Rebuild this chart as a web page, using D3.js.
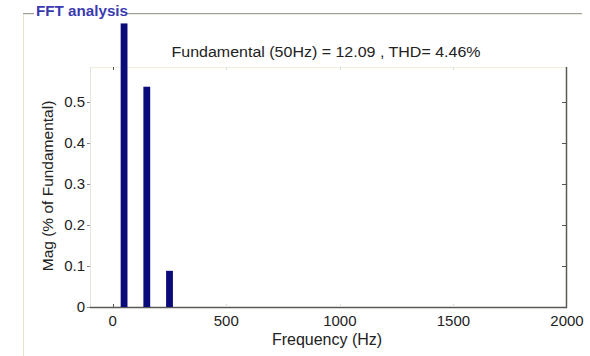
<!DOCTYPE html>
<html>
<head>
<meta charset="utf-8">
<script src="https://cdn.jsdelivr.net/npm/d3@7"></script>
<style>
html,body{margin:0;padding:0;background:#fff;}
svg{display:block;font-family:"Liberation Sans",Arial,sans-serif;}
</style>
</head>
<body>
<svg id="chart" width="590" height="356"></svg>
<script>
// Data
const frequencies = [50, 150, 250];          // Hz
const magnitudes = [0.69, 0.536, 0.088];    // % of fundamental (first bar clipped in view)
const xTicks = [0, 500, 1000, 1500, 2000];
const yTicks = [0, 0.1, 0.2, 0.3, 0.4, 0.5];
const panelTitle = "FFT analysis";
const chartTitle = "Fundamental (50Hz) = 12.09 , THD= 4.46%";
const xLabel = "Frequency (Hz)";
const yLabel = "Mag (% of Fundamental)";

const svg = d3.select("#chart");
const W = 590, H = 356;
const m = {left: 90, right: 567, top: 67, bottom: 307};

const x = d3.scaleLinear().domain([-100, 2000]).range([m.left, m.right]);
const y = d3.scaleLinear().domain([0, 0.584]).range([m.bottom, m.top]);

// group box
const g0 = svg.append("g");
g0.append("line").attr("x1", 23).attr("x2", 34).attr("y1", 13.5).attr("y2", 13.5).attr("stroke", "#a0a0a0");
g0.append("line").attr("x1", 127).attr("x2", 582).attr("y1", 13.5).attr("y2", 13.5).attr("stroke", "#a0a0a0");
g0.append("line").attr("x1", 24).attr("x2", 34).attr("y1", 14.5).attr("y2", 14.5).attr("stroke", "#ece9d8");
g0.append("line").attr("x1", 127).attr("x2", 582).attr("y1", 14.5).attr("y2", 14.5).attr("stroke", "#ece9d8");
g0.append("line").attr("x1", 23.5).attr("x2", 23.5).attr("y1", 14).attr("y2", H).attr("stroke", "#e6e2cc");
g0.append("text").attr("x", 36).attr("y", 16).attr("font-size", 15).attr("fill", "#3a3ab0")
  .attr("font-weight", "bold").attr("textLength", 92).attr("lengthAdjust", "spacingAndGlyphs").text(panelTitle);

// axes box
const ax = svg.append("g");
ax.append("rect").attr("x", m.left).attr("y", m.top).attr("width", m.right - m.left).attr("height", m.bottom - m.top).attr("fill", "#fff");
ax.append("line").attr("x1", m.left).attr("x2", m.right).attr("y1", m.top + 0.5).attr("y2", m.top + 0.5).attr("stroke", "#f3efd8");
ax.append("line").attr("x1", m.left + 0.5).attr("x2", m.left + 0.5).attr("y1", m.top).attr("y2", m.bottom).attr("stroke", "#e4e4dc");
ax.append("line").attr("x1", m.right - 0.5).attr("x2", m.right - 0.5).attr("y1", m.top).attr("y2", m.bottom + 1).attr("stroke", "#5a5a55").attr("stroke-width", 1.5);
ax.append("line").attr("x1", m.left).attr("x2", m.right).attr("y1", m.bottom + 0.5).attr("y2", m.bottom + 0.5).attr("stroke", "#5a5a55").attr("stroke-width", 1.5);

// ticks
yTicks.forEach(t => {
  ax.append("line").attr("x1", m.left - 3).attr("x2", m.left).attr("y1", Math.round(y(t)) + 0.5).attr("y2", Math.round(y(t)) + 0.5).attr("stroke", "#888");
  ax.append("line").attr("x1", m.right - 5).attr("x2", m.right).attr("y1", Math.round(y(t)) + 0.5).attr("y2", Math.round(y(t)) + 0.5).attr("stroke", "#555");
});
xTicks.forEach(t => {
  ax.append("line").attr("x1", Math.round(x(t)) + 0.5).attr("x2", Math.round(x(t)) + 0.5).attr("y1", m.bottom - 3).attr("y2", m.bottom).attr("stroke", t === 0 ? "#555" : "#ddd");
  ax.append("line").attr("x1", Math.round(x(t)) + 0.5).attr("x2", Math.round(x(t)) + 0.5).attr("y1", m.top).attr("y2", m.top + 3).attr("stroke", t === 0 ? "#555" : "#ddd");
});

// bars
const bw = x(30) - x(0);
svg.append("g").selectAll("rect").data(frequencies).join("rect")
  .attr("x", (d) => x(d) - bw / 2)
  .attr("width", bw)
  .attr("y", (d, i) => y(magnitudes[i]))
  .attr("height", (d, i) => y(0) - y(magnitudes[i]))
  .attr("fill", "#0a0a78");

// tick labels
const txt = svg.append("g").attr("fill", "#222").attr("font-size", 15);
txt.selectAll(".yt").data(yTicks).join("text")
  .attr("x", 85).attr("y", d => y(d)).attr("dy", "0.35em").attr("text-anchor", "end")
  .text(d => d3.format("")(d).replace(/^0$/, "0"));
txt.selectAll(".xt").data(xTicks).join("text")
  .attr("x", d => x(d)).attr("y", 326).attr("text-anchor", "middle")
  .text(d => d);

// labels
svg.append("text").attr("x", 326).attr("y", 57).attr("text-anchor", "middle").attr("font-size", 15.5).attr("fill", "#222")
  .attr("textLength", 309).attr("lengthAdjust", "spacingAndGlyphs").text(chartTitle);
svg.append("text").attr("x", 327).attr("y", 345).attr("text-anchor", "middle").attr("font-size", 16).attr("fill", "#222").text(xLabel);
svg.append("text").attr("transform", "translate(53,186) rotate(-90)").attr("text-anchor", "middle").attr("font-size", 15.5).attr("fill", "#222").text(yLabel);
</script>
</body>
</html>
